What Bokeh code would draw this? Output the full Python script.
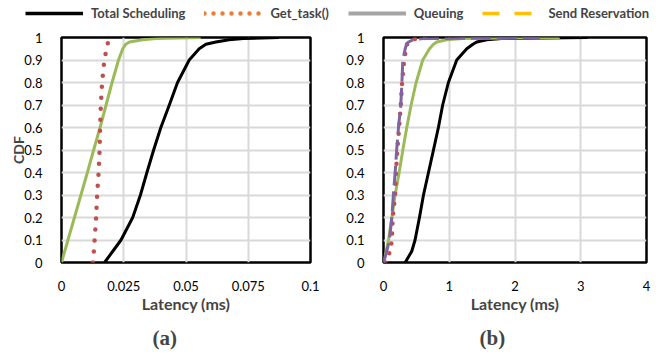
from bokeh.plotting import figure
from bokeh.models import Legend, LegendItem, Range1d, Title, FixedTicker
from bokeh.layouts import column, row
from bokeh.embed import file_html
from bokeh.resources import INLINE

# ---------------- data ----------------
series_names = ["Total Scheduling", "Get_task()", "Queuing", "Send Reservation"]

cdf_levels = [0, 0.05, 0.1, 0.2, 0.3, 0.4, 0.5, 0.6, 0.7, 0.8, 0.9, 0.95, 0.97, 0.98, 0.99, 0.995, 1.0]

# panel (a) latencies in ms
a_total = [0.0173, 0.0206, 0.0239, 0.0286, 0.0317, 0.0343, 0.037, 0.0399, 0.0433, 0.0466,
           0.0513, 0.0553, 0.058, 0.062, 0.0673, 0.073, 0.0873]
a_gettask = [0.0126, 0.013, 0.0133, 0.0139, 0.0143, 0.0149, 0.0153, 0.0155, 0.0158, 0.0163,
             0.0172, 0.0181, 0.0185, 0.0187, 0.019, 0.0192, 0.0193]
a_queuing = [0, 0.0013, 0.0026, 0.0052, 0.0078, 0.0104, 0.0129, 0.0155, 0.0179, 0.0203,
             0.0229, 0.0246, 0.0258, 0.0273, 0.0326, 0.038, 0.0559]

# panel (b) latencies in ms
b_total = [0.33, 0.43, 0.48, 0.547, 0.608, 0.684, 0.76, 0.835, 0.90, 0.987,
           1.114, 1.266, 1.36, 1.418, 1.57, 1.8, 3.1]
b_gettask = [0.03, 0.1, 0.127, 0.14, 0.177, 0.19, 0.21, 0.238, 0.263, 0.283,
             0.314, 0.344, 0.36, 0.38, 0.42, 0.5, 0.76]
b_queuing = [0, 0.04, 0.076, 0.127, 0.177, 0.238, 0.294, 0.354, 0.42, 0.496,
             0.597, 0.70, 0.76, 0.81, 0.96, 1.2, 2.68]
b_send = [0, 0.05, 0.09, 0.127, 0.15, 0.177, 0.2, 0.228, 0.263, 0.28,
          0.294, 0.33, 0.35, 0.38, 0.456, 0.6, 2.38]

y_ticks = [0, 0.1, 0.2, 0.3, 0.4, 0.5, 0.6, 0.7, 0.8, 0.9, 1]
y_tick_labels = ["0", "0.1", "0.2", "0.3", "0.4", "0.5", "0.6", "0.7", "0.8", "0.9", "1"]
a_x_ticks = [0, 0.025, 0.05, 0.075, 0.1]
a_x_tick_labels = ["0", "0.025", "0.05", "0.075", "0.1"]
b_x_ticks = [0, 1, 2, 3, 4]
b_x_tick_labels = ["0", "1", "2", "3", "4"]

x_title = "Latency (ms)"
y_title = "CDF"
panel_labels = ["(a)", "(b)"]

# ---------------- styles ----------------
FONT = "Lato"
C_TOTAL = "#000000"
C_GET = "#C0504D"
C_QUEUE = "#9BBB59"
C_SEND = "#8064A2"
LEG_COLORS = ["#000000", "#ED7D31", "#A5A5A5", "#FFC000"]

PAGE_W, PAGE_H = 668, 358
LEG_H = 26
FIG_H = PAGE_H - LEG_H
FRAME_TOP = 37
FRAME_H = 226


def make_panel(xmax, xticks, xlabels, width, left, right, ylabel, plabel, plabel_offset):
    top = FRAME_TOP - LEG_H
    p = figure(width=width, height=FIG_H, x_range=Range1d(0, xmax), y_range=Range1d(0, 1),
               output_backend="svg", toolbar_location=None,
               min_border_left=left, min_border_right=right,
               min_border_top=top, min_border_bottom=FIG_H - top - FRAME_H)
    p.background_fill_color = "white"
    p.border_fill_color = "white"
    p.outline_line_color = "black"
    p.outline_line_width = 2.5

    p.xaxis.ticker = FixedTicker(ticks=xticks)
    p.yaxis.ticker = FixedTicker(ticks=y_ticks)
    p.xaxis.major_label_overrides = {t: l for t, l in zip(xticks, xlabels)}
    p.yaxis.major_label_overrides = {t: l for t, l in zip(y_ticks, y_tick_labels)}
    for ax in (p.xaxis, p.yaxis):
        ax.axis_line_color = None
        ax.major_tick_line_color = None
        ax.minor_tick_line_color = None
        ax.major_label_text_font = FONT
        ax.major_label_text_font_size = "13px"
        ax.major_label_text_color = "#000000"
    p.yaxis.major_label_standoff = 13
    p.xaxis.major_label_standoff = 12

    p.xaxis.axis_label = x_title
    p.xaxis.axis_label_text_font = FONT
    p.xaxis.axis_label_text_font_size = "16px"
    p.xaxis.axis_label_text_font_style = "bold"
    p.xaxis.axis_label_standoff = 0
    if ylabel:
        p.yaxis.axis_label = ylabel
        p.yaxis.axis_label_text_font = FONT
        p.yaxis.axis_label_text_font_size = "14px"
        p.yaxis.axis_label_text_font_style = "bold"
        p.yaxis.axis_label_standoff = -6

    p.xgrid.grid_line_color = "#D9D9D9"
    p.ygrid.grid_line_color = "#D9D9D9"
    p.xgrid.grid_line_width = 2
    p.ygrid.grid_line_width = 2

    p.add_layout(Title(text=plabel, align="left", offset=plabel_offset,
                       text_font="Liberation Serif", text_font_size="21px",
                       text_font_style="bold", standoff=17), "below")
    return p


W1 = 330
pa = make_panel(0.1, a_x_ticks, a_x_tick_labels, W1, 61, W1 - 61 - 249, y_title, panel_labels[0], 91)
pa.line(a_total, cdf_levels, line_color=C_TOTAL, line_width=3, line_join="round")
pa.line(a_queuing, cdf_levels, line_color=C_QUEUE, line_width=3, line_join="round")
pa.line(a_gettask, cdf_levels, line_color=C_GET, line_width=4.5, line_dash="0 11", line_cap="round")

W2 = PAGE_W - W1
pb = make_panel(4, b_x_ticks, b_x_tick_labels, W2, 383 - W1, W2 - (383 - W1) - 263, None, panel_labels[1], 96)
pb.line(b_total, cdf_levels, line_color=C_TOTAL, line_width=3, line_join="round")
pb.line(b_queuing, cdf_levels, line_color=C_QUEUE, line_width=3, line_join="round")
pb.line(b_gettask, cdf_levels, line_color=C_GET, line_width=4.5, line_dash="0 10", line_cap="round")
pb.line(b_send, cdf_levels, line_color=C_SEND, line_width=3, line_dash="20 6")

# ---------------- legend strip ----------------
leg = figure(width=PAGE_W, height=LEG_H, x_range=Range1d(0, 1), y_range=Range1d(0, 1),
             output_backend="svg", toolbar_location=None, min_border=0)
leg.axis.visible = False
leg.grid.visible = False
leg.outline_line_color = None
# off-screen proxy renderers, used only to draw the legend swatches
proxy_x = [-10, -9]
proxy_y = [-10, -9]
r0 = leg.line(proxy_x, proxy_y, line_color=LEG_COLORS[0], line_width=3.5)
r1 = leg.line(proxy_x, proxy_y, line_color=LEG_COLORS[1], line_width=4.5, line_dash="0 9", line_cap="round")
r2 = leg.line(proxy_x, proxy_y, line_color=LEG_COLORS[2], line_width=4)
r3 = leg.line(proxy_x, proxy_y, line_color=LEG_COLORS[3], line_width=3.5, line_dash="17 15")
legend = Legend(items=[LegendItem(label=n, renderers=[r]) for n, r in zip(series_names, [r0, r1, r2, r3])],
                orientation="horizontal", location=(25, 5), padding=0, margin=0,
                spacing=19, glyph_width=58, glyph_height=16, label_standoff=8,
                label_height=16, label_text_font=FONT, label_text_font_size="13px",
                label_text_font_style="bold", border_line_color=None,
                background_fill_alpha=0)
leg.add_layout(legend, "center")

layout = column(leg, row(pa, pb, spacing=0), spacing=0)

with open("out.html", "w") as f:
    f.write(file_html(layout, INLINE))
